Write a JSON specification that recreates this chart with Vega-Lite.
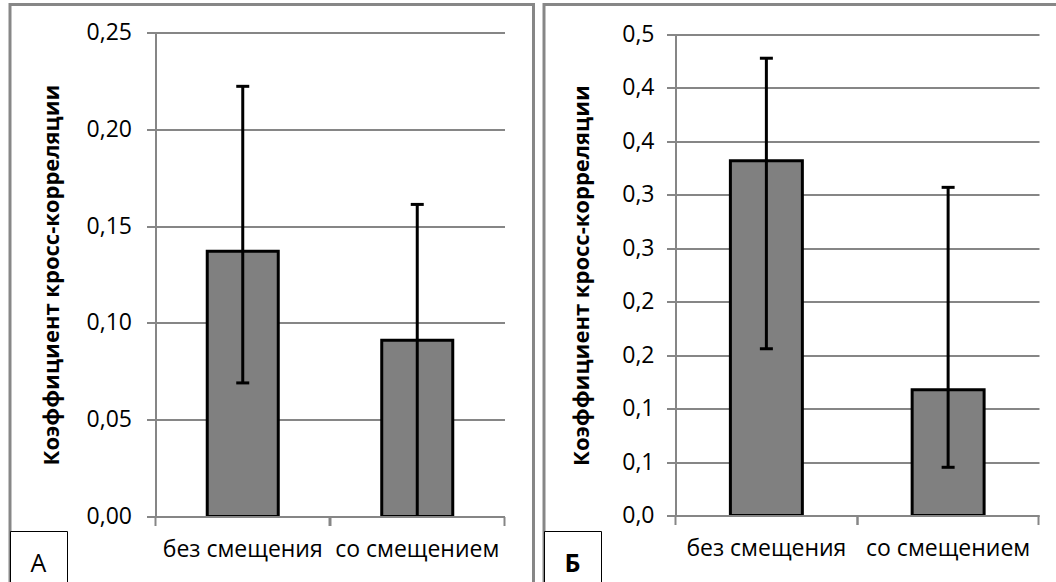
{
  "$schema": "https://vega.github.io/schema/vega-lite/v6.json",
  "padding": {"left": 8, "top": 2.5, "right": 0, "bottom": 0},
  "spacing": 7,
  "config": {
    "view": {"stroke": "#878787", "strokeWidth": 3, "fill": "white"},
    "font": "Open Sans",
    "locale": {"number": {"decimal": ",", "thousands": " ", "grouping": [3], "currency": ["", ""]}}
  },
  "resolve": {"scale": {"color": "independent"}},
  "hconcat": [
    {
      "width": 523.5,
      "height": 581,
      "data": {"values": [
        {"panel": "А", "cat": "без смещения", "mean": 0.137, "lo": 0.069, "hi": 0.2222},
        {"panel": "А", "cat": "со смещением", "mean": 0.091, "lo": 0, "hi": 0.1612}
      ]},
      "resolve": {"axis": {"x": "independent"}},
      "layer": [
        {
          "mark": {"type": "bar", "stroke": "#000", "strokeWidth": 3},
          "encoding": {
            "x": {"field": "cat", "type": "nominal", "sort": null,
              "scale": {"range": [145.5, 494.5], "paddingInner": 0.593, "paddingOuter": 0.2965},
              "axis": {"orient": "bottom", "offset": -69, "bandPosition": -0.7285, "labelOffset": 0, "title": null, "labelAngle": 0,
                "domainColor": "#868686", "domainWidth": 2, "tickColor": "#868686", "tickWidth": 2, "tickSize": 9,
                "labelFont": "Open Sans", "labelFontSize": 23, "labelColor": "#000", "labelPadding": 13, "labelLimit": 400, "zindex": 1}},
            "y": {"field": "mean", "type": "quantitative",
              "scale": {"domain": [0, 0.25], "range": [512, 28], "nice": false},
              "axis": {"title": "Коэффициент кросс-корреляции", "values": [0, 0.05, 0.1, 0.15, 0.2, 0.25],
                "labelExpr": "replace(format(datum.value + 1e-9, '.2f'), '.', ',')",
                "offset": -145.5, "grid": true, "gridColor": "#868686", "gridWidth": 2,
                "domainColor": "#868686", "domainWidth": 2, "tickColor": "#868686", "tickWidth": 2, "tickSize": 9,
                "labelFont": "Open Sans", "labelFontSize": 23, "labelColor": "#000", "labelPadding": 15,
                "titleFont": "Open Sans", "titleFontSize": 22, "titleFontWeight": "bold", "titleColor": "#000", "titlePadding": 23}},
            "y2": {"datum": 0},
            "color": {"field": "panel", "type": "nominal", "scale": {"range": ["#808080"]},
              "legend": {"title": null, "orient": "none", "legendX": 0, "legendY": 526.5, "padding": 20.5,
                "strokeColor": "#000", "fillColor": "white", "symbolSize": 0, "symbolOpacity": 0, "symbolStrokeWidth": 0,
                "labelOffset": -25, "labelFont": "Open Sans", "labelFontSize": 25, "labelColor": "#000",
                "encode": {"legend": {"update": {"strokeWidth": {"value": 3}}}, "labels": {"update": {"dy": {"value": -4}}}}}}
          }
        },
        {
          "mark": {"type": "rule", "color": "#000", "strokeWidth": 3},
          "encoding": {
            "x": {"field": "cat", "type": "nominal", "sort": null,
              "scale": {"range": [145.5, 494.5], "paddingInner": 0.593, "paddingOuter": 0.2965},
              "axis": {"orient": "bottom", "offset": -69, "bandPosition": 1.7285, "labels": false, "domain": false, "title": null,
                "tickColor": "#868686", "tickWidth": 2, "tickSize": 9, "zindex": 1}},
            "y": {"field": "lo", "type": "quantitative", "title": "Коэффициент кросс-корреляции"},
            "y2": {"field": "hi"}
          }
        },
        {
          "mark": {"type": "tick", "color": "#000", "opacity": 1, "size": 13, "thickness": 3},
          "encoding": {
            "x": {"field": "cat", "type": "nominal", "sort": null, "axis": null},
            "y": {"field": "hi", "type": "quantitative", "title": "Коэффициент кросс-корреляции"}
          }
        },
        {
          "transform": [{"filter": "datum.lo > 0"}],
          "mark": {"type": "tick", "color": "#000", "opacity": 1, "size": 13, "thickness": 3},
          "encoding": {
            "x": {"field": "cat", "type": "nominal", "sort": null, "axis": null},
            "y": {"field": "lo", "type": "quantitative", "title": "Коэффициент кросс-корреляции"}
          }
        }
      ]
    },
    {
      "width": 516,
      "height": 581,
      "data": {"values": [
        {"panel": "Б", "cat": "без смещения", "mean": 0.332, "lo": 0.156, "hi": 0.4278},
        {"panel": "Б", "cat": "со смещением", "mean": 0.1177, "lo": 0.0451, "hi": 0.307}
      ]},
      "resolve": {"axis": {"x": "independent"}},
      "layer": [
        {
          "mark": {"type": "bar", "stroke": "#000", "strokeWidth": 3},
          "encoding": {
            "x": {"field": "cat", "type": "nominal", "sort": null,
              "scale": {"range": [131.5, 495], "paddingInner": 0.604, "paddingOuter": 0.302},
              "axis": {"orient": "bottom", "offset": -70, "bandPosition": -0.7624, "labelOffset": 0, "title": null, "labelAngle": 0,
                "domainColor": "#868686", "domainWidth": 2, "tickColor": "#868686", "tickWidth": 2, "tickSize": 9,
                "labelFont": "Open Sans", "labelFontSize": 23, "labelColor": "#000", "labelPadding": 13, "labelLimit": 400, "zindex": 1}},
            "y": {"field": "mean", "type": "quantitative",
              "scale": {"domain": [0, 0.45], "range": [511, 30], "nice": false},
              "axis": {"title": "Коэффициент кросс-корреляции", "values": [0, 0.05, 0.1, 0.15, 0.2, 0.25, 0.3, 0.35, 0.4, 0.45],
                "labelExpr": "replace(format(datum.value + 1e-9, '.1f'), '.', ',')",
                "offset": -131.5, "grid": true, "gridColor": "#868686", "gridWidth": 2,
                "domainColor": "#868686", "domainWidth": 2, "tickColor": "#868686", "tickWidth": 2, "tickSize": 9,
                "labelFont": "Open Sans", "labelFontSize": 23, "labelColor": "#000", "labelPadding": 12.5,
                "titleFont": "Open Sans", "titleFontSize": 22, "titleFontWeight": "bold", "titleColor": "#000", "titlePadding": 28}},
            "y2": {"datum": 0},
            "color": {"field": "panel", "type": "nominal", "scale": {"range": ["#808080"]},
              "legend": {"title": null, "orient": "none", "legendX": 0, "legendY": 526.5, "padding": 20.5,
                "strokeColor": "#000", "fillColor": "white", "symbolSize": 0, "symbolOpacity": 0, "symbolStrokeWidth": 0,
                "labelOffset": -25, "labelFont": "Open Sans", "labelFontSize": 25, "labelFontWeight": "bold", "labelColor": "#000",
                "encode": {"legend": {"update": {"strokeWidth": {"value": 3}}}, "labels": {"update": {"dy": {"value": -4}}}}}}
          }
        },
        {
          "mark": {"type": "rule", "color": "#000", "strokeWidth": 3},
          "encoding": {
            "x": {"field": "cat", "type": "nominal", "sort": null,
              "scale": {"range": [131.5, 495], "paddingInner": 0.604, "paddingOuter": 0.302},
              "axis": {"orient": "bottom", "offset": -70, "bandPosition": 1.7624, "labels": false, "domain": false, "title": null,
                "tickColor": "#868686", "tickWidth": 2, "tickSize": 9, "zindex": 1}},
            "y": {"field": "lo", "type": "quantitative", "title": "Коэффициент кросс-корреляции"},
            "y2": {"field": "hi"}
          }
        },
        {
          "mark": {"type": "tick", "color": "#000", "opacity": 1, "size": 13, "thickness": 3},
          "encoding": {
            "x": {"field": "cat", "type": "nominal", "sort": null, "axis": null},
            "y": {"field": "hi", "type": "quantitative", "title": "Коэффициент кросс-корреляции"}
          }
        },
        {
          "transform": [{"filter": "datum.lo > 0"}],
          "mark": {"type": "tick", "color": "#000", "opacity": 1, "size": 13, "thickness": 3},
          "encoding": {
            "x": {"field": "cat", "type": "nominal", "sort": null, "axis": null},
            "y": {"field": "lo", "type": "quantitative", "title": "Коэффициент кросс-корреляции"}
          }
        }
      ]
    }
  ]
}
